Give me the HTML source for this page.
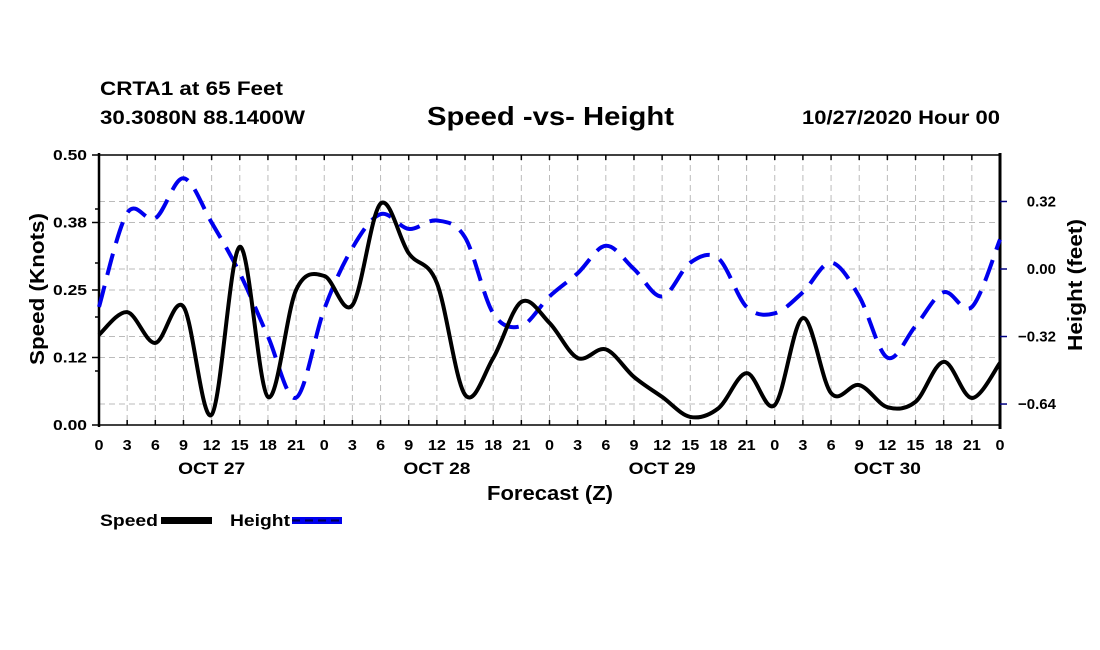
<!DOCTYPE html>
<html><head><meta charset="utf-8"><style>
body{margin:0;background:#fff;}
svg{display:block;font-family:"Liberation Sans",sans-serif;}
</style></head><body>
<svg id="chart" width="1100" height="650" viewBox="0 0 1100 650">
<g font-weight="bold" fill="#000">
<text x="100" y="95" font-size="19" textLength="183" lengthAdjust="spacingAndGlyphs">CRTA1 at 65 Feet</text>
<text x="100" y="124" font-size="19" textLength="205" lengthAdjust="spacingAndGlyphs">30.3080N 88.1400W</text>
<text x="427" y="125" font-size="26" textLength="247" lengthAdjust="spacingAndGlyphs">Speed -vs- Height</text>
<text x="802" y="124" font-size="19" textLength="198" lengthAdjust="spacingAndGlyphs">10/27/2020 Hour 00</text>
</g>
<g id="grid"></g>
<g id="axes"></g>
<g id="series"></g>
<g font-weight="bold" font-size="17">
<text x="100" y="526" textLength="58" lengthAdjust="spacingAndGlyphs">Speed</text>
<rect x="161" y="517" width="51" height="7" fill="#000"/>
<text x="230" y="526" textLength="60" lengthAdjust="spacingAndGlyphs">Height</text>
<rect x="292" y="517" width="50" height="7" fill="#0000ee"/>
<line x1="292" y1="520.5" x2="342" y2="520.5" stroke="#000050" stroke-width="2" stroke-dasharray="8,5"/>
</g>
<text x="487" y="500" font-size="20" font-weight="bold" textLength="126" lengthAdjust="spacingAndGlyphs">Forecast (Z)</text>
<text transform="translate(44,289) rotate(-90)" font-size="20" font-weight="bold" text-anchor="middle" textLength="152" lengthAdjust="spacingAndGlyphs">Speed (Knots)</text>
<text transform="translate(1082,285) rotate(-90)" font-size="20" font-weight="bold" text-anchor="middle" textLength="132" lengthAdjust="spacingAndGlyphs">Height (feet)</text>
</svg>
<script>
const hours=[0,3,6,9,12,15,18,21,24,27,30,33,36,39,42,45,48,51,54,57,60,63,66,69,72,75,78,81,84,87,90,93,96];
const speedValues=[0.167,0.209,0.152,0.219,0.019,0.33,0.052,0.25,0.276,0.222,0.41,0.318,0.263,0.056,0.124,0.228,0.189,0.124,0.14,0.089,0.052,0.015,0.031,0.096,0.037,0.198,0.059,0.074,0.033,0.043,0.117,0.050,0.115];
const heightValues=[-0.18,0.265,0.24,0.43,0.22,-0.02,-0.32,-0.61,-0.19,0.10,0.26,0.19,0.23,0.15,-0.21,-0.27,-0.13,-0.02,0.11,0,-0.13,0.03,0.05,-0.18,-0.21,-0.11,0.03,-0.13,-0.42,-0.27,-0.11,-0.18,0.14];
const leftTicks=[0,0.125,0.25,0.375,0.5];
const leftTickLabels=["0.00","0.12","0.25","0.38","0.50"];
const rightTicks=[0.32,0,-0.32,-0.64];
const rightTickLabels=["0.32","0.00","\u22120.32","\u22120.64"];
const dayLabels=["OCT 27","OCT 28","OCT 29","OCT 30"];
const dayCenters=[12,36,60,84];

const X0=99,X1=1000,Y0=425,Y1=155;
const xs=h=>X0+(h/96)*(X1-X0);
const yL=v=>Y0-(v/0.5)*(Y0-Y1);
const yR=v=>269-v*211;
const NS="http://www.w3.org/2000/svg";
function mk(tag,attrs,parent){const e=document.createElementNS(NS,tag);for(const k in attrs)e.setAttribute(k,attrs[k]);parent.appendChild(e);return e;}
const grid=document.getElementById('grid'),axes=document.getElementById('axes'),series=document.getElementById('series');
const gs={stroke:"#bbb","stroke-width":1,"stroke-dasharray":"6,4"};
for(let h=3;h<96;h+=3){const l=mk('line',Object.assign({x1:xs(h),x2:xs(h),y1:Y1,y2:Y0},gs),grid);

}
leftTicks.slice(1,4).forEach(v=>{const l=mk('line',Object.assign({x1:X0,x2:X1,y1:yL(v),y2:yL(v)},gs),grid);

});
rightTicks.forEach(v=>{const l=mk('line',Object.assign({x1:X0,x2:X1,y1:yR(v),y2:yR(v)},gs),grid);

});
let f=mk('line',{x1:X0,x2:X1,y1:Y1,y2:Y1,stroke:"#000","stroke-width":1.5},axes);


f=mk('line',{x1:X0,x2:X1,y1:Y0,y2:Y0,stroke:"#000","stroke-width":1.5},axes);


f=mk('line',{x1:X0,x2:X0,y1:Y1-2,y2:Y0+2,stroke:"#000","stroke-width":2.5},axes);


f=mk('line',{x1:X1,x2:X1,y1:Y1-2,y2:Y0+4,stroke:"#000","stroke-width":3},axes);


for(let h=0;h<=96;h+=3){
 mk('line',{x1:xs(h),x2:xs(h),y1:Y0,y2:Y0-5,stroke:"#000","stroke-width":1.5},axes);
 mk('line',{x1:xs(h),x2:xs(h),y1:Y1,y2:Y1+5,stroke:"#000","stroke-width":1.5},axes);
 const s=String(h%24);
 const t=mk('text',{x:xs(h),y:450,"font-size":15,"font-weight":"bold","text-anchor":"middle",textLength:s.length*9,lengthAdjust:"spacingAndGlyphs"},axes);
 t.textContent=s;
 
 
}
dayLabels.forEach((d,i)=>{const t=mk('text',{x:xs(dayCenters[i]),y:474,"font-size":17,"font-weight":"bold","text-anchor":"middle",textLength:67,lengthAdjust:"spacingAndGlyphs"},axes);
t.textContent=d;

});
leftTicks.forEach((v,i)=>{mk('line',{x1:X0-7,x2:X0,y1:yL(v),y2:yL(v),stroke:"#000","stroke-width":1.5},axes);
const t=mk('text',{x:87,y:yL(v)+5,"font-size":15,"font-weight":"bold","text-anchor":"end",textLength:34,lengthAdjust:"spacingAndGlyphs"},axes);
t.textContent=leftTickLabels[i];

});
[0.1,0.2,0.3,0.4].forEach(v=>mk('line',{x1:X0-4,x2:X0,y1:yL(v),y2:yL(v),stroke:"#000","stroke-width":1.5},axes));
rightTicks.forEach((v,i)=>{mk('line',{x1:X1,x2:X1+7,y1:yR(v),y2:yR(v),stroke:"#000080","stroke-width":1.5},axes);
const t=mk('text',{x:1056,y:yR(v)+5,"font-size":15,"font-weight":"bold","text-anchor":"end"},axes);
t.textContent=rightTickLabels[i];

});
function path(vals,yf){
 const p=hours.map((h,i)=>[xs(h),yf(vals[i])]);
 let d=`M${p[0][0]},${p[0][1]}`;
 for(let i=0;i<p.length-1;i++){
  const a=p[Math.max(0,i-1)],b=p[i],c=p[i+1],e=p[Math.min(p.length-1,i+2)];
  const c1=[b[0]+(c[0]-a[0])/6,b[1]+(c[1]-a[1])/6],c2=[c[0]-(e[0]-b[0])/6,c[1]-(e[1]-b[1])/6];
  d+=` C${c1[0]},${c1[1]} ${c2[0]},${c2[1]} ${c[0]},${c[1]}`;
 }
 return d;
}
const hp=mk('path',{d:path(heightValues,yR),fill:"none",stroke:"#0000ee","stroke-width":4,"stroke-dasharray":"22,11"},series);


const sp=mk('path',{d:path(speedValues,yL),fill:"none",stroke:"#000","stroke-width":4,"stroke-linejoin":"round"},series);


</script>
</body></html>
